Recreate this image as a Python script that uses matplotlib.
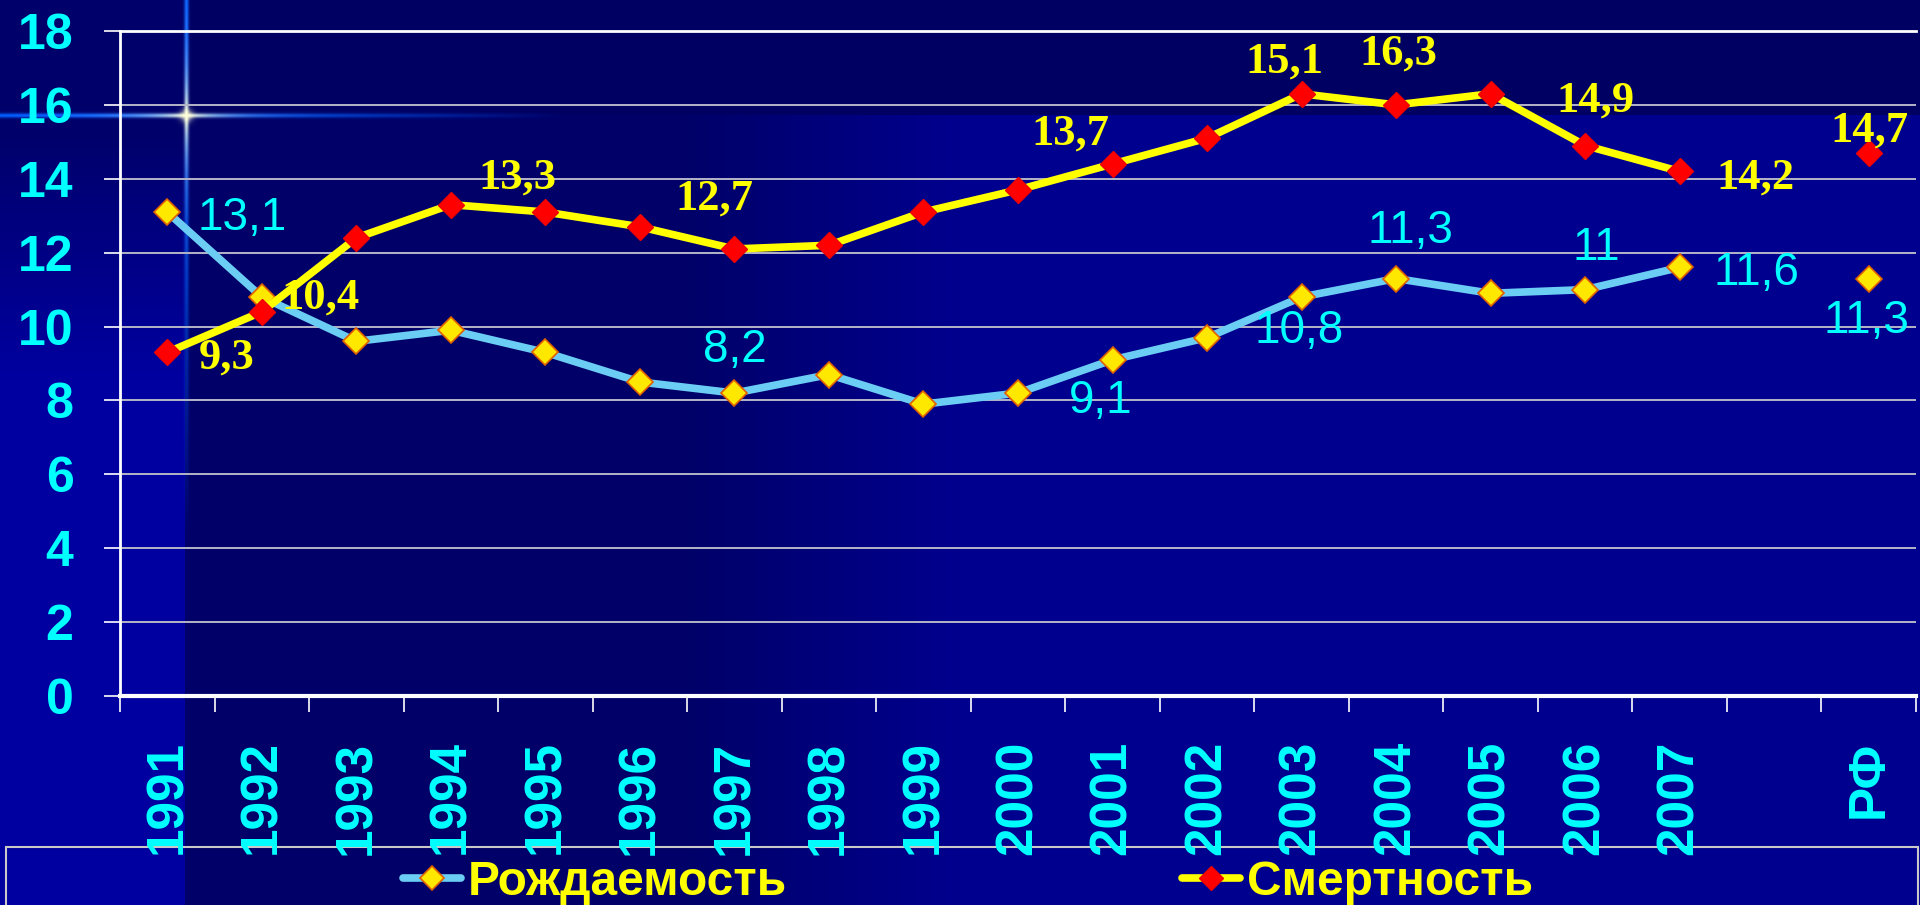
import numpy as np
import matplotlib
matplotlib.use('Agg')
import matplotlib.pyplot as plt
from matplotlib.lines import Line2D
from matplotlib.patches import Rectangle

plt.rcParams['font.family'] = ['Liberation Sans', 'DejaVu Sans']

categories = ['1991', '1992', '1993', '1994', '1995', '1996', '1997', '1998', '1999',
              '2000', '2001', '2002', '2003', '2004', '2005', '2006', '2007', '', 'РФ']
birth = [13.1, 10.8, 9.6, 9.9, 9.3, 8.5, 8.2, 8.7, 7.9, 8.2, 9.1, 9.7,
         10.8, 11.3, 10.9, 11.0, 11.6, np.nan, 11.3]
death = [9.3, 10.4, 12.4, 13.3, 13.1, 12.7, 12.1, 12.2, 13.1, 13.7, 14.4, 15.1,
         16.3, 16.0, 16.3, 14.9, 14.2, np.nan, 14.7]
yticks = list(range(0, 19, 2))
series_names = ['Рождаемость', 'Смертность']

# which points carry a value label, and where the label sits (pixels from the point)
birth_labels = [(0, 75, -18), (6, 0, 31), (10, -12, -53), (12, -2, -46),
                (13, 14, 36), (15, 11, 30), (16, 77, -18), (18, -2, -54)]
death_labels = [(0, 59, -16), (1, 59, 3), (3, 67, 16), (5, 74, 17), (9, 52, 45),
                (11, 77, 66), (12, 97, 29), (15, 10, 34), (16, 76, -17), (18, 1, 11)]

W, H = 1920, 905
CYAN = '#00FFFF'
YELLOW = '#FFFF00'
BLUE_LINE = '#6CCDF4'


def background():
    yy, xx = np.mgrid[0:H, 0:W].astype(float)
    dark = np.array([0, 0, 0x68]) / 255
    mid = np.array([0, 0, 0x8e]) / 255
    t = np.clip((xx - 680) / 280, 0, 1)[..., None]
    bg = dark + (mid - dark) * t
    top = (yy < 116) & (xx >= 186)
    bg[top] = np.array([0, 0, 0x62]) / 255
    left = xx < 185
    s = np.clip((yy - 130) / 250, 0, 1)[..., None]
    strip = np.array([0, 0, 0x6a]) / 255 + (np.array([0, 0, 0xa0]) - np.array([0, 0, 0x6a])) / 255 * s
    bg = np.where(left[..., None], strip, bg)
    # star flare
    cx, cy = 186, 116
    dx, dy = xx - cx, yy - cy
    fade_v = np.where(dy < 0, 1.0, np.clip(1 - dy / 420, 0, 1))
    fade_h = np.where(dx < 0, 1.0, np.clip(1 - dx / 380, 0, 1))
    a = np.maximum(np.exp(-(dx / 2.3) ** 2) * fade_v, np.exp(-(dy / 2.3) ** 2) * fade_h)
    d = np.hypot(dx, dy)
    w = np.exp(-d / 40)[..., None]
    blue = np.array([0.0, 0.36, 1.0])
    white = np.array([1.0, 1.0, 0.85])
    col = blue * (1 - w) + white * w
    bg = bg * (1 - a[..., None]) + col * a[..., None]
    g = (np.exp(-(d / 6) ** 2) * 0.9)[..., None]
    bg = bg * (1 - g) + white * g
    return np.clip(bg, 0, 1)


def fmt(v):
    return f'{v:g}'.replace('.', ',')


fig = plt.figure(figsize=(19.2, 9.05), dpi=100)
bg_ax = fig.add_axes([0, 0, 1, 1])
bg_ax.imshow(background(), aspect='auto', interpolation='nearest')
bg_ax.set_axis_off()
bg_ax.set_zorder(0)

left, right, top, bottom = 120, 1916, 31, 696
ax = fig.add_axes([left / W, 1 - bottom / H, (right - left) / W, (bottom - top) / H])
ax.set_zorder(1)
ax.patch.set_alpha(0)

x = np.arange(len(categories))
ax.plot(x, birth, color=BLUE_LINE, lw=5.5, marker='D', ms=13.5, mfc='#FFE800',
        mec='#E06000', mew=1.2, zorder=4, solid_joinstyle='round')
ax.plot(x, death, color=YELLOW, lw=5.5, marker='D', ms=13.5, mfc='#FF0000',
        mec='#EE0000', mew=1.0, zorder=5, solid_joinstyle='round')

for i, ox, oy in birth_labels:
    ax.annotate(fmt(birth[i]), (x[i], birth[i]), xytext=(ox, oy), textcoords='offset pixels',
                ha='center', va='baseline', color=CYAN, fontsize=33,
                family='Liberation Sans', zorder=6)
for i, ox, oy in death_labels:
    ax.annotate(fmt(death[i]), (x[i], death[i]), xytext=(ox, oy), textcoords='offset pixels',
                ha='center', va='baseline', color=YELLOW, fontsize=32,
                family='Liberation Serif', weight='bold', zorder=6)

ax.set_xlim(-0.5, len(categories) - 0.5)
ax.set_ylim(0, 18)
ax.set_yticks(yticks)
ax.set_yticklabels([str(v) for v in yticks])
ax.set_xticks(x)
ax.set_xticklabels(categories, rotation=90)
ax.set_xticks(np.arange(-0.5, len(categories), 1), minor=True)

ax.tick_params(axis='y', direction='out', length=11.5, width=1.2, color='white',
               pad=22, labelsize=36, labelcolor=CYAN)
ax.tick_params(axis='x', which='major', length=0, pad=32, labelsize=37, labelcolor=CYAN)
ax.tick_params(axis='x', which='minor', direction='out', length=11.5, width=1.2, color='white')
for lab in ax.get_yticklabels() + ax.get_xticklabels():
    lab.set_fontweight('bold')
for lab in ax.get_xticklabels():
    lab.set_va('top')

ax.grid(axis='y', color='#B4B4C8', lw=1.4)
ax.set_axisbelow(True)
for side in ['left', 'top']:
    ax.spines[side].set_color('white')
    ax.spines[side].set_linewidth(2)
ax.spines['bottom'].set_color('white')
ax.spines['bottom'].set_linewidth(3)
ax.spines['right'].set_visible(False)

# legend box running off the bottom edge
fig.add_artist(Rectangle((6 / W, -0.01), (1918 - 6) / W, 0.01 + 1 - 847 / H,
                         transform=fig.transFigure, fill=False, ec='#C8C8C8', lw=1.5))

handles = [
    Line2D([], [], color=BLUE_LINE, lw=5.5, marker='D', ms=12.5, mfc='#FFE800',
           mec='#E06000', mew=1.2, solid_capstyle='round'),
    Line2D([], [], color=YELLOW, lw=5.5, marker='D', ms=12.5, mfc='#FF0000',
           mec='#EE0000', mew=1.0, solid_capstyle='round'),
]
for h, name, x0 in zip(handles, series_names, [403, 1182]):
    leg = fig.legend([h], [name], loc='center left', bbox_to_anchor=(x0 / W, 1 - 882 / H),
                     frameon=False, handlelength=1.2, handletextpad=0.15,
                     borderpad=0, borderaxespad=0,
                     prop={'family': 'Liberation Sans', 'weight': 'bold', 'size': 34.5})
    for t in leg.get_texts():
        t.set_color(YELLOW)

fig.savefig('out.png', dpi=100)
